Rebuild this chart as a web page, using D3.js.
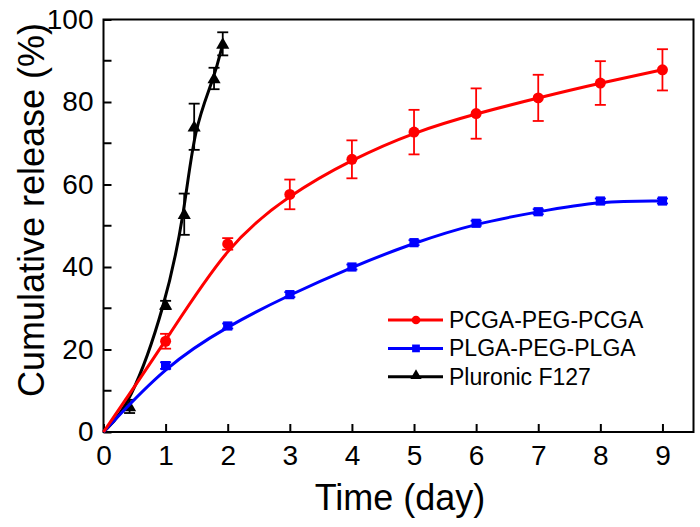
<!DOCTYPE html>
<html><head><meta charset="utf-8">
<script src="https://cdn.jsdelivr.net/npm/d3@7"></script>
<style>body{margin:0;background:#fff}svg{display:block}text{font-family:"Liberation Sans",Arial,sans-serif}</style>
</head><body>
<svg id="c" width="700" height="527"></svg>
<script>
// Data
const pcgaDays = [0, 1, 2, 3, 4, 5, 6, 7, 8, 9];
const pcgaVals = [0, 22.0, 45.6, 57.6, 66.1, 72.7, 77.2, 81.0, 84.6, 87.8];
const pcgaErr  = [0, 1.8, 1.4, 3.6, 4.6, 5.4, 6.1, 5.6, 5.3, 5.0];

const plgaDays = [0, 1, 2, 3, 4, 5, 6, 7, 8, 9];
const plgaVals = [0, 16.1, 25.7, 33.3, 40.0, 45.9, 50.6, 53.4, 56.0, 56.0];
const plgaErr  = [0, 0.8, 0.6, 0.6, 0.6, 0.6, 0.6, 0.6, 0.6, 0.6];

const f127Days = [0, 0.42, 1.0, 1.3, 1.46, 1.78, 1.92];
const f127Vals = [0, 6.2, 30.8, 52.8, 74.0, 85.7, 94.1];
const f127Err  = [0, 1.6, 1.0, 5.0, 5.6, 2.6, 2.8];

const xTicks = [0, 1, 2, 3, 4, 5, 6, 7, 8, 9];
const yTicks = [0, 20, 40, 60, 80, 100];
const yMinor = [10, 30, 50, 70, 90];
const seriesNames = ["PCGA-PEG-PCGA", "PLGA-PEG-PLGA", "Pluronic F127"];
const seriesColors = ["#ff0000", "#0000ff", "#000000"];

const svg = d3.select("#c");
const m = {l: 103.5, t: 19.5, r: 693.5, b: 432};
const x = d3.scaleLinear().domain([0, 9.5]).range([m.l, m.r]);
const y = d3.scaleLinear().domain([0, 100]).range([m.b, m.t]);

// axes
const xAxis = d3.axisBottom(x).tickValues(xTicks).tickSizeInner(-8).tickSizeOuter(0).tickPadding(13);
const gx = svg.append("g").attr("transform", `translate(0,${m.b})`).call(xAxis);
gx.select(".domain").remove();
gx.selectAll("line").attr("stroke", "#000").attr("stroke-width", 2);
gx.selectAll("text").attr("font-size", 28).attr("fill", "#000");

const yAxis = d3.axisLeft(y).tickValues(yTicks).tickSizeInner(-8).tickSizeOuter(0).tickPadding(10);
const gy = svg.append("g").attr("transform", `translate(${m.l},0)`).call(yAxis);
gy.select(".domain").remove();
gy.selectAll("line").attr("stroke", "#000").attr("stroke-width", 2);
gy.selectAll("text").attr("font-size", 28).attr("fill", "#000");
svg.append("g").selectAll("line").data(yMinor).join("line")
  .attr("x1", m.l).attr("x2", m.l + 8).attr("y1", d => y(d)).attr("y2", d => y(d))
  .attr("stroke", "#000").attr("stroke-width", 2);

// frame
svg.append("rect").attr("x", m.l).attr("y", m.t).attr("width", m.r - m.l).attr("height", m.b - m.t)
  .attr("fill", "none").attr("stroke", "#000").attr("stroke-width", 2);

// labels
svg.append("text").attr("x", 400).attr("y", 510).attr("text-anchor", "middle")
  .attr("font-size", 36).text("Time (day)");
svg.append("text").attr("transform", "translate(44,210) rotate(-90)").attr("text-anchor", "middle")
  .attr("font-size", 36).text("Cumulative release (%)");

function drawSeries(days, vals, errs, color, shape, curve) {
  const pts = days.map((d, i) => [d, vals[i], errs[i]]);
  const line = d3.line().x(d => x(d[0])).y(d => y(d[1])).curve(curve);
  const g = svg.append("g");
  g.append("path").datum(pts).attr("d", line).attr("fill", "none")
    .attr("stroke", color).attr("stroke-width", 3);
  const eb = pts.filter(p => p[0] > 0 && p[2] > 0);
  const gE = g.append("g").attr("stroke", color).attr("stroke-width", 1.8);
  eb.forEach(p => {
    gE.append("line").attr("x1", x(p[0])).attr("x2", x(p[0])).attr("y1", y(p[1] - p[2])).attr("y2", y(p[1] + p[2]));
    gE.append("line").attr("x1", x(p[0]) - 5.5).attr("x2", x(p[0]) + 5.5).attr("y1", y(p[1] + p[2])).attr("y2", y(p[1] + p[2]));
    gE.append("line").attr("x1", x(p[0]) - 5.5).attr("x2", x(p[0]) + 5.5).attr("y1", y(p[1] - p[2])).attr("y2", y(p[1] - p[2]));
  });
  const sym = d3.symbol().type(shape).size(shape === d3.symbolTriangle ? 75 : (shape === d3.symbolSquare ? 85 : 95));
  g.selectAll("path.pt").data(pts.filter(p => p[0] > 0)).join("path").attr("class", "pt")
    .attr("transform", p => `translate(${x(p[0])},${y(p[1]) + (shape === d3.symbolTriangle ? 1 : 0)})`)
    .attr("d", sym).attr("fill", color);
}

drawSeries(f127Days, f127Vals, f127Err, seriesColors[2], d3.symbolTriangle, d3.curveBasis);
drawSeries(plgaDays, plgaVals, plgaErr, seriesColors[1], d3.symbolSquare, d3.curveBasis);
drawSeries(pcgaDays, pcgaVals, pcgaErr, seriesColors[0], d3.symbolCircle, d3.curveBasis);

// legend
const shapes = [d3.symbolCircle, d3.symbolSquare, d3.symbolTriangle];
const lg = svg.append("g");
seriesNames.forEach((n, i) => {
  const ly = 320 + i * 28.4;
  lg.append("line").attr("x1", 388).attr("x2", 443).attr("y1", ly).attr("y2", ly)
    .attr("stroke", seriesColors[i]).attr("stroke-width", 3);
  lg.append("path").attr("transform", `translate(416,${ly + (i === 2 ? -1 : 0)})`)
    .attr("d", d3.symbol().type(shapes[i]).size(i === 2 ? 55 : 60)).attr("fill", seriesColors[i]);
  lg.append("text").attr("x", 449).attr("y", ly + 8).attr("font-size", 23).text(n);
});
</script>
</body></html>
